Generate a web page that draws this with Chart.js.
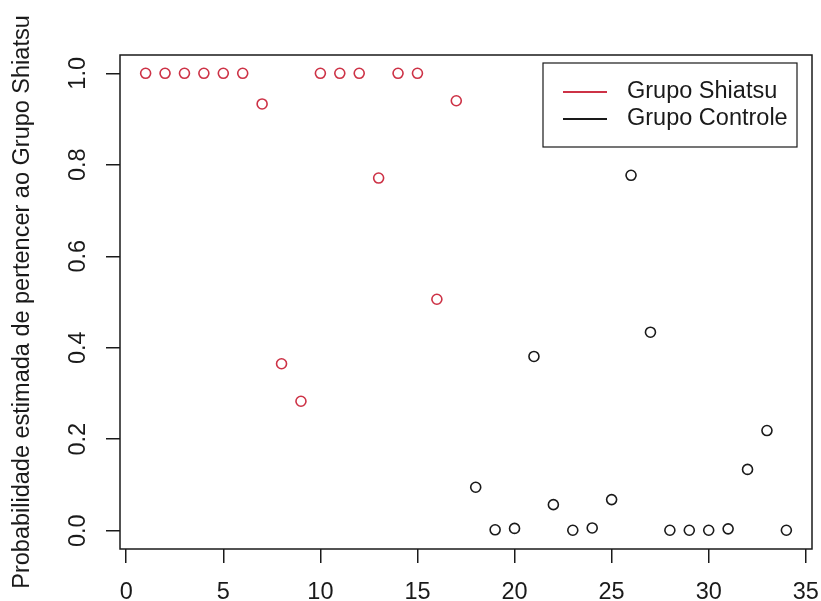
<!DOCTYPE html>
<html>
<head>
<meta charset="utf-8">
<script src="https://cdn.jsdelivr.net/npm/chart.js@4/dist/chart.umd.min.js"></script>
<style>
  body { margin: 0; background: #fff; }
  canvas { display: block; }
</style>
</head>
<body>
<canvas id="chart" width="821" height="601"></canvas>
<script>
// observation index (x) for each group
var idsShiatsu = [1, 2, 3, 4, 5, 6, 7, 8, 9, 10, 11, 12, 13, 14, 15, 16, 17];
var idsControle = [18, 19, 20, 21, 22, 23, 24, 25, 26, 27, 28, 29, 30, 31, 32, 33, 34];

// estimated probability of belonging to the Shiatsu group
var probShiatsu = [1, 1, 1, 1, 1, 1, 0.933, 0.365, 0.283, 1, 1, 1, 0.771, 1, 1, 0.506, 0.94];
var probControle = [0.095, 0.002, 0.005, 0.381, 0.057, 0.001, 0.006, 0.068, 0.777, 0.434,
                    0.001, 0.001, 0.001, 0.004, 0.134, 0.219, 0.001];

var xTicks = [0, 5, 10, 15, 20, 25, 30, 35];
var yTicks = [0, 0.2, 0.4, 0.6, 0.8, 1.0];
var yTickLabels = ['0.0', '0.2', '0.4', '0.6', '0.8', '1.0'];

var labelShiatsu = 'Grupo Shiatsu';
var labelControle = 'Grupo Controle';
var yTitle = 'Probabilidade estimada de pertencer ao Grupo Shiatsu';

var red = 'rgb(205, 50, 70)';
var dark = '#1a1a1a';
var font = '"Liberation Sans", Arial, Helvetica, sans-serif';
var fontSize = 23.5;

function toPoints(xs, ys) {
  return xs.map(function (x, i) {
    return { x: x, y: ys[i] };
  });
}

// box, rotated y tick labels and the legend, the way R draws them
var rStyle = {
  id: 'rStyle',
  afterDraw: function (chart) {
    var ctx = chart.ctx;
    var a = chart.chartArea;
    var yScale = chart.scales.y;
    ctx.save();

    ctx.strokeStyle = dark;
    ctx.lineWidth = 1.5;
    ctx.strokeRect(a.left, a.top, a.right - a.left, a.bottom - a.top);

    ctx.fillStyle = dark;
    ctx.font = fontSize + 'px ' + font;
    ctx.textAlign = 'center';
    ctx.textBaseline = 'middle';
    yTicks.forEach(function (v, i) {
      var py = yScale.getPixelForValue(v);
      ctx.save();
      ctx.translate(79, py);
      ctx.rotate(-Math.PI / 2);
      ctx.fillText(yTickLabels[i], 0, 0);
      ctx.restore();
    });

    // legend
    var lx = 543, ly = 63, lw = 254, lh = 84;
    ctx.fillStyle = '#fff';
    ctx.fillRect(lx, ly, lw, lh);
    ctx.lineWidth = 1.2;
    ctx.strokeStyle = dark;
    ctx.strokeRect(lx, ly, lw, lh);
    chart.data.datasets.forEach(function (ds, i) {
      var yy = 92 + i * 27;
      ctx.strokeStyle = ds.borderColor;
      ctx.lineWidth = 1.8;
      ctx.beginPath();
      ctx.moveTo(563, yy);
      ctx.lineTo(607, yy);
      ctx.stroke();
      ctx.fillStyle = dark;
      ctx.textAlign = 'left';
      ctx.fillText(ds.label, 627, yy);
    });
    ctx.restore();
  }
};

var chart = new Chart('chart', {
  type: 'scatter',
  data: {
    datasets: [
      {
        label: labelShiatsu,
        data: toPoints(idsShiatsu, probShiatsu),
        borderColor: red,
        backgroundColor: 'rgba(0,0,0,0)',
        borderWidth: 1.6,
        pointRadius: 5,
        pointHoverRadius: 5
      },
      {
        label: labelControle,
        data: toPoints(idsControle, probControle),
        borderColor: dark,
        backgroundColor: 'rgba(0,0,0,0)',
        borderWidth: 1.6,
        pointRadius: 5,
        pointHoverRadius: 5
      }
    ]
  },
  options: {
    responsive: false,
    animation: false,
    layout: { padding: { top: 55, right: 9, left: 0, bottom: 0 } },
    plugins: {
      legend: { display: false },
      tooltip: { enabled: false }
    },
    scales: {
      x: {
        type: 'linear',
        min: -0.32,
        max: 35.32,
        afterBuildTicks: function (scale) {
          scale.ticks = xTicks.map(function (v) { return { value: v }; });
        },
        afterFit: function (scale) {
          scale.height = 52;
          scale.paddingLeft = 0;
          scale.paddingRight = 0;
        },
        border: { display: false },
        grid: {
          drawOnChartArea: false,
          drawTicks: true,
          tickLength: 14,
          color: dark,
          lineWidth: 1.5
        },
        ticks: {
          autoSkip: false,
          maxRotation: 0,
          padding: 15,
          color: dark,
          font: { family: font, size: fontSize }
        }
      },
      y: {
        type: 'linear',
        min: -0.04,
        max: 1.04,
        afterBuildTicks: function (scale) {
          scale.ticks = yTicks.map(function (v) { return { value: v }; });
        },
        afterFit: function (scale) {
          scale.width = 120;
          scale.paddingTop = 0;
          scale.paddingBottom = 0;
        },
        border: { display: false },
        grid: {
          drawOnChartArea: false,
          drawTicks: true,
          tickLength: 14,
          color: dark,
          lineWidth: 1.5
        },
        ticks: { display: false },
        title: {
          display: true,
          text: yTitle,
          color: dark,
          padding: { top: 8, bottom: 0 },
          font: { family: font, size: fontSize }
        }
      }
    }
  },
  plugins: [rStyle]
});
</script>
</body>
</html>
